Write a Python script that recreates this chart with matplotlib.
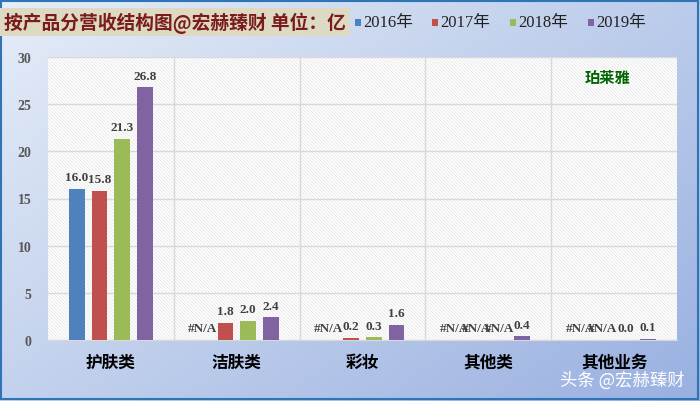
import numpy as np
import matplotlib.pyplot as plt
from matplotlib.patches import Rectangle

plt.rcParams['font.family'] = ['Liberation Serif', 'Noto Sans CJK SC']
plt.rcParams['hatch.linewidth'] = 0.5

categories = ['护肤类', '洁肤类', '彩妆', '其他类', '其他业务']
years = ['2016年', '2017年', '2018年', '2019年']
colors = ['#4F81BD', '#C0504D', '#9BBB59', '#8064A2']
# None = #N/A in the source sheet
v2016 = [16.0, None, None, None, None]
v2017 = [15.8, 1.8, 0.2, None, None]
v2018 = [21.3, 2.0, 0.3, None, 0.0]
v2019 = [26.8, 2.4, 1.6, 0.4, 0.1]
series = [v2016, v2017, v2018, v2019]

fig = plt.figure(figsize=(7, 4.02), dpi=100)

# gradient background
bg = fig.add_axes([0, 0, 1, 1], zorder=-10)
gx, gy = np.meshgrid(np.linspace(0, 1, 200), np.linspace(0, 1, 200))
t = np.clip(0.55 * gx + 0.45 * gy, 0, 1)
c0 = np.array([0.90, 0.93, 0.97])
c1 = np.array([0.60, 0.69, 0.88])
img = c0[None, None, :] * (1 - t[..., None]) + c1[None, None, :] * t[..., None]
bg.imshow(img, extent=[0, 1, 0, 1], aspect='auto')
bg.add_patch(Rectangle((0.002, 0.004), 0.995, 0.99, fill=False, ec='#2E75B6', lw=1.5))
bg.set_axis_off()

ax = fig.add_axes([48 / 700, 1 - 341 / 402, 629 / 700, 283 / 402])
ax.set_facecolor('white')
ax.add_patch(Rectangle((0, 0), 1, 1, transform=ax.transAxes, fc='white',
                       ec='#e2e2e2', lw=0, hatch='\\' * 10, zorder=0.5))

x = np.arange(len(categories))
w = 0.125
step = 0.18
for i, (vals, col) in enumerate(zip(series, colors)):
    pos = x + (i - 1.5) * step
    h = [v if v is not None else 0 for v in vals]
    ax.bar(pos, h, width=w, color=col, zorder=3)
    for p, v in zip(pos, vals):
        lab = '#N/A' if v is None else f'{v:.1f}'
        ax.text(p, (v or 0) + 0.6, lab, ha='center', va='bottom', fontsize=9.5,
                fontweight='bold', color='#404040', zorder=4)

ax.set_xlim(-0.5, len(categories) - 0.5)
ax.set_ylim(0, 30)
ax.set_yticks(range(0, 31, 5))
ax.set_xticks(x)
ax.set_xticklabels(categories, fontsize=12, fontweight='bold',
                   family=['Noto Sans CJK SC'])
for b in np.arange(0.5, len(categories) - 0.5):
    ax.axvline(b, color='#d9d9d9', lw=1, zorder=1)
ax.grid(axis='y', color='#d9d9d9', lw=1, zorder=1)
ax.tick_params(length=0, pad=9)
ax.tick_params(axis='y', labelsize=10, labelcolor='#595959', pad=12)
for lab in ax.get_yticklabels():
    lab.set_fontweight('bold')
for s in ax.spines.values():
    s.set_visible(False)
ax.spines['bottom'].set_visible(True)
ax.spines['bottom'].set_color('#d9d9d9')

ax.text(0.89, 0.93, '珀莱雅', transform=ax.transAxes, ha='center', va='center',
        fontsize=11, fontweight='bold', color='#006400', family=['Noto Sans CJK SC'])

# title with beige box
fig.text(4 / 700, 1 - 23 / 402, '按产品分营收结构图@宏赫臻财 单位：亿', fontsize=13.5,
         fontweight='bold', color='#7B1C1C', va='center', ha='left',
         family=['Noto Sans CJK SC'], zorder=5,
         bbox=dict(boxstyle='square,pad=0.2', fc='#DDD9C3', ec='none'))

# legend
lx = [355, 432, 510, 588]
for xx, yr, col in zip(lx, years, colors):
    fig.patches.append(Rectangle((xx / 700, 1 - 27 / 402), 6 / 700, 7 / 402,
                                 transform=fig.transFigure, fc=col, ec='none',
                                 zorder=10))
    fig.text((xx + 8) / 700, 1 - 23 / 402, yr, fontsize=12, color='#222222',
             va='center', ha='left', zorder=10,
             family=['Liberation Serif', 'Noto Sans CJK SC'])

fig.text(622 / 700, 1 - 381 / 402, '头条 @宏赫臻财', fontsize=12.5, color='white',
         ha='center', va='center', family=['Noto Sans CJK SC'])

fig.savefig('out.png', dpi=100)
